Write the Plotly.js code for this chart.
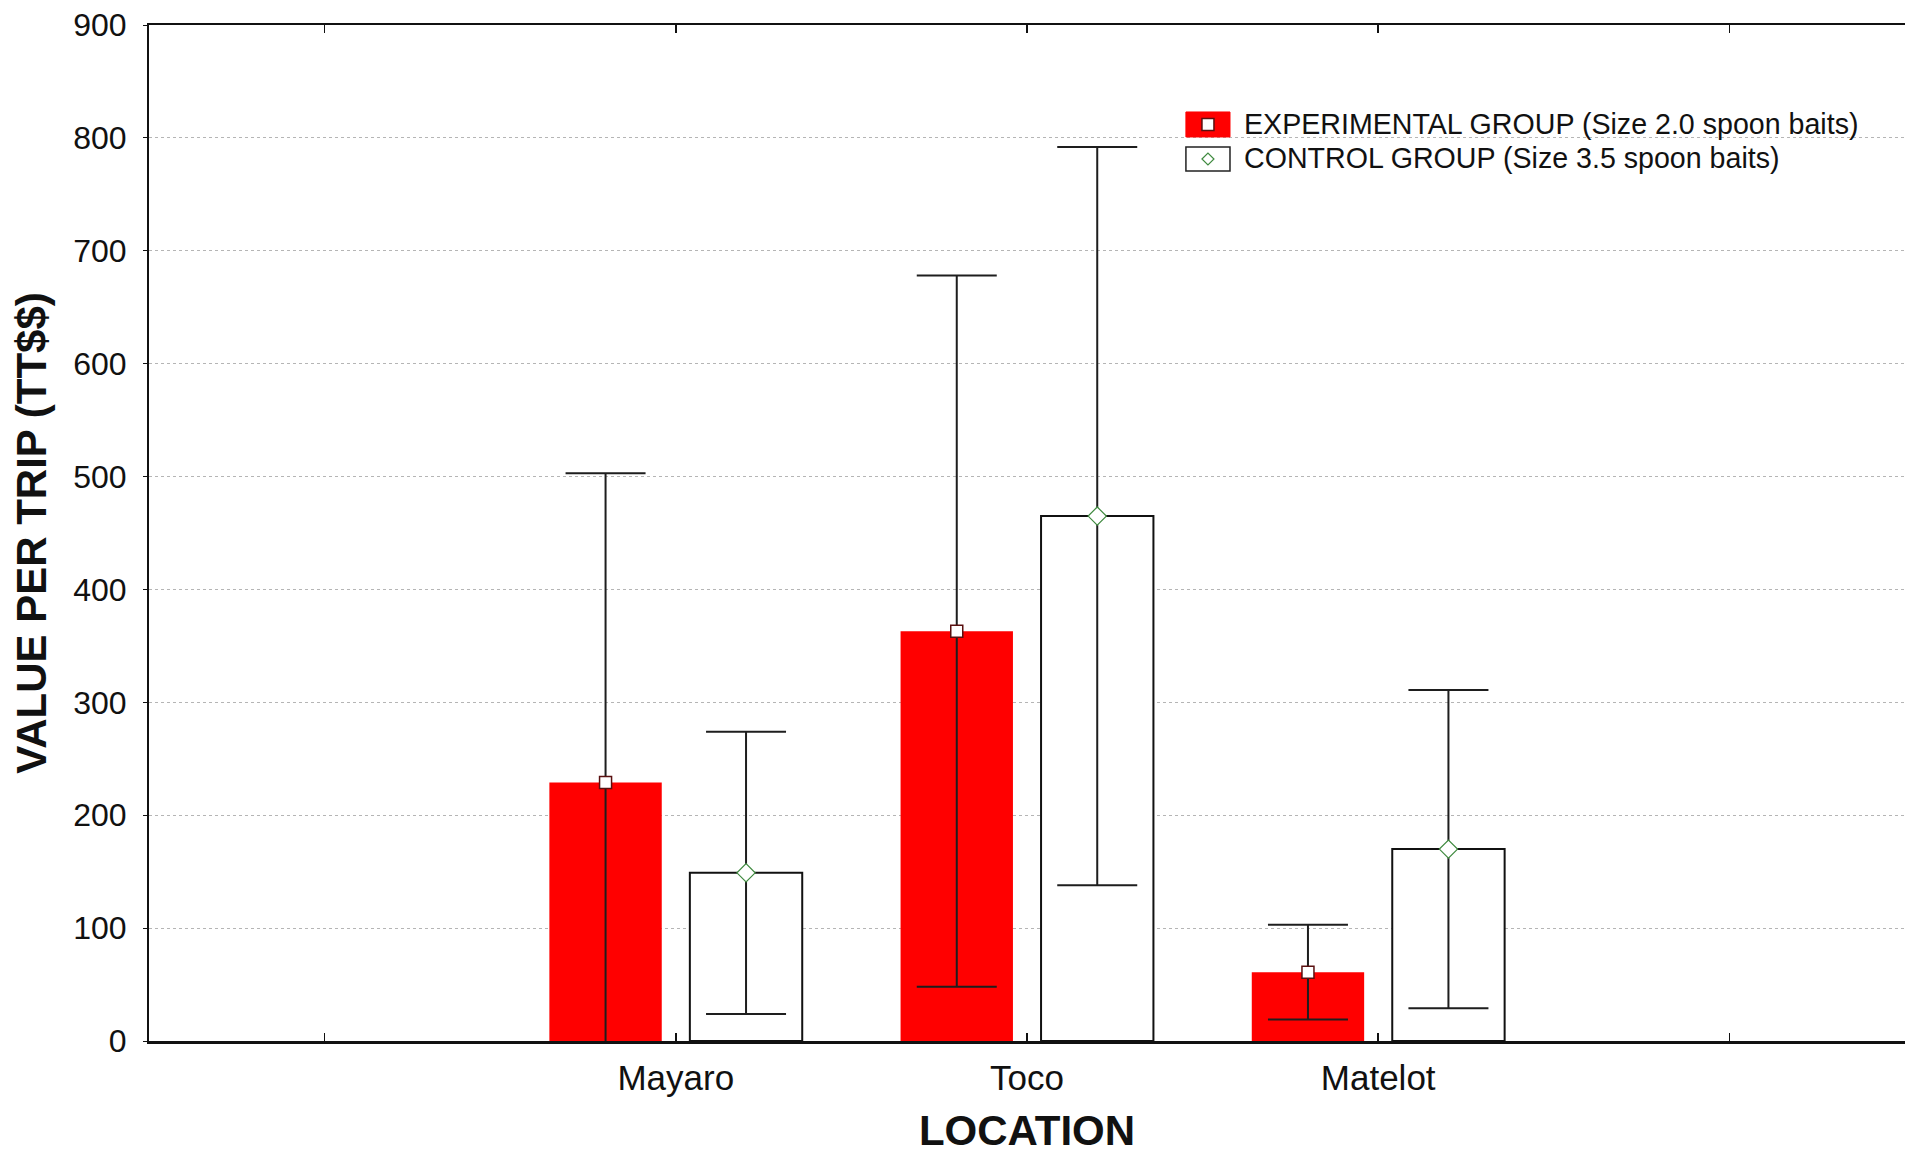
<!DOCTYPE html>
<html>
<head>
<meta charset="utf-8">
<script src="https://cdn.plot.ly/plotly-3.0.1.min.js"></script>
<style>
  html, body { margin: 0; padding: 0; background: #ffffff; }
  #chart { width: 1905px; height: 1154px; }
</style>
</head>
<body>
<div id="chart"></div>
<script>
// ---- data ----
const locations = ["Mayaro", "Toco", "Matelot"];
const locationPos = [1, 2, 3];
const tickPositions = [0, 1, 2, 3, 4];
const tickLabels = ["", "Mayaro", "Toco", "Matelot", ""];

const expName = "EXPERIMENTAL GROUP (Size 2.0 spoon baits)";
const ctlName = "CONTROL GROUP (Size 3.5 spoon baits)";

const expMean = [229, 363, 61];
const expErr = [274, 315, 42];
const ctlMean = [149, 465, 170];
const ctlErr = [125, 327, 141];

// ---- layout helpers ----
const offset = 0.2;
const xExp = locationPos.map(v => v - offset);
const xCtl = locationPos.map(v => v + offset);
const errColor = "#1e1e1e";
const FONT = "Liberation Sans, Arial, sans-serif";

const traces = [
  {
    type: "bar", name: expName, x: locationPos, y: expMean,
    marker: { color: "#ff0000", line: { color: "#ff0000", width: 0 } },
    offsetgroup: "exp", showlegend: false, hoverinfo: "skip"
  },
  {
    type: "bar", name: ctlName, x: locationPos, y: ctlMean,
    marker: { color: "#ffffff", line: { color: "#111111", width: 2 } },
    offsetgroup: "ctl", showlegend: false, hoverinfo: "skip"
  },
  {
    type: "scatter", mode: "markers", name: expName, x: xExp, y: expMean,
    error_y: { type: "data", array: expErr, visible: true, color: errColor, thickness: 2, width: 40 },
    marker: { symbol: "square", size: 12, color: "#ffffff", line: { color: "#5a1010", width: 1.5 } },
    showlegend: false, cliponaxis: true
  },
  {
    type: "scatter", mode: "markers", name: ctlName, x: xCtl, y: ctlMean,
    error_y: { type: "data", array: ctlErr, visible: true, color: errColor, thickness: 2, width: 40 },
    marker: { symbol: "diamond", size: 14, color: "#ffffff", line: { color: "#3f8a3f", width: 1.2 } },
    showlegend: false, cliponaxis: true
  }
];

// custom legend (paper coordinates)
const lgX0 = 0.5905, lgX1 = 0.6156;
const lgRows = [
  { y0: 0.8898, y1: 0.9144, ty: 0.9026 },
  { y0: 0.8563, y1: 0.8799, ty: 0.8691 }
];
const lgMid = (lgX0 + lgX1) / 2;

const shapes = [
  { type: "rect", xref: "paper", yref: "paper", x0: lgX0, x1: lgX1, y0: lgRows[0].y0, y1: lgRows[0].y1,
    fillcolor: "#ff0000", line: { color: "#ff0000", width: 1 } },
  { type: "rect", xref: "paper", yref: "paper", xsizemode: "pixel", ysizemode: "pixel",
    xanchor: lgMid, yanchor: (lgRows[0].y0 + lgRows[0].y1) / 2, x0: -6, x1: 6, y0: -6, y1: 6,
    fillcolor: "#ffffff", line: { color: "#5a1010", width: 1.5 } },
  { type: "rect", xref: "paper", yref: "paper", x0: lgX0, x1: lgX1, y0: lgRows[1].y0, y1: lgRows[1].y1,
    fillcolor: "#ffffff", line: { color: "#222222", width: 1.5 } },
  { type: "path", xref: "paper", yref: "paper", xsizemode: "pixel", ysizemode: "pixel",
    xanchor: lgMid, yanchor: (lgRows[1].y0 + lgRows[1].y1) / 2, path: "M-6,0 L0,6 L6,0 L0,-6 Z",
    fillcolor: "#ffffff", line: { color: "#3f8a3f", width: 1.2 } }
];

const annotations = [
  { xref: "paper", yref: "paper", x: 0.6225, y: lgRows[0].ty, xanchor: "left", yanchor: "middle",
    text: expName, showarrow: false, font: { family: FONT, size: 28.6, color: "#111111" } },
  { xref: "paper", yref: "paper", x: 0.6225, y: lgRows[1].ty, xanchor: "left", yanchor: "middle",
    text: ctlName, showarrow: false, font: { family: FONT, size: 28.6, color: "#111111" } }
];

const layout = {
  width: 1905, height: 1154,
  margin: { l: 149, r: 0, t: 25, b: 113 },
  paper_bgcolor: "#ffffff", plot_bgcolor: "#ffffff",
  font: { family: FONT, color: "#111111" },
  barmode: "group", bargap: 0.2, bargroupgap: 0.2,
  showlegend: false,
  xaxis: {
    type: "linear", range: [-0.5, 4.5],
    tickmode: "array", tickvals: tickPositions, ticktext: tickLabels,
    ticks: "inside", ticklen: 8, tickwidth: 1.5, tickcolor: "#111111",
    showline: true, linecolor: "#111111", linewidth: 2.5, mirror: "ticks",
    showgrid: false, zeroline: false,
    tickfont: { family: FONT, size: 35, color: "#111111" },
    ticklabelstandoff: 4,
    title: { text: "LOCATION", font: { family: FONT, size: 42, color: "#111111", weight: "bold" }, standoff: 31 },
    automargin: false
  },
  yaxis: {
    range: [0, 900], tickmode: "linear", tick0: 0, dtick: 100,
    ticks: "outside", ticklen: 4, tickwidth: 1, tickcolor: "#111111",
    showline: true, linecolor: "#111111", linewidth: 2, mirror: true,
    showgrid: true, gridcolor: "#b5b5b5", gridwidth: 1, griddash: "dot",
    zeroline: false,
    tickfont: { family: FONT, size: 32, color: "#111111" },
    ticklabelstandoff: 10,
    title: { text: "VALUE PER TRIP (TT$$)", font: { family: FONT, size: 42, color: "#111111", weight: "bold" }, standoff: 14 },
    automargin: false
  },
  shapes: shapes,
  annotations: annotations
};

Plotly.newPlot("chart", traces, layout, { displayModeBar: false, staticPlot: true });
</script>
</body>
</html>
